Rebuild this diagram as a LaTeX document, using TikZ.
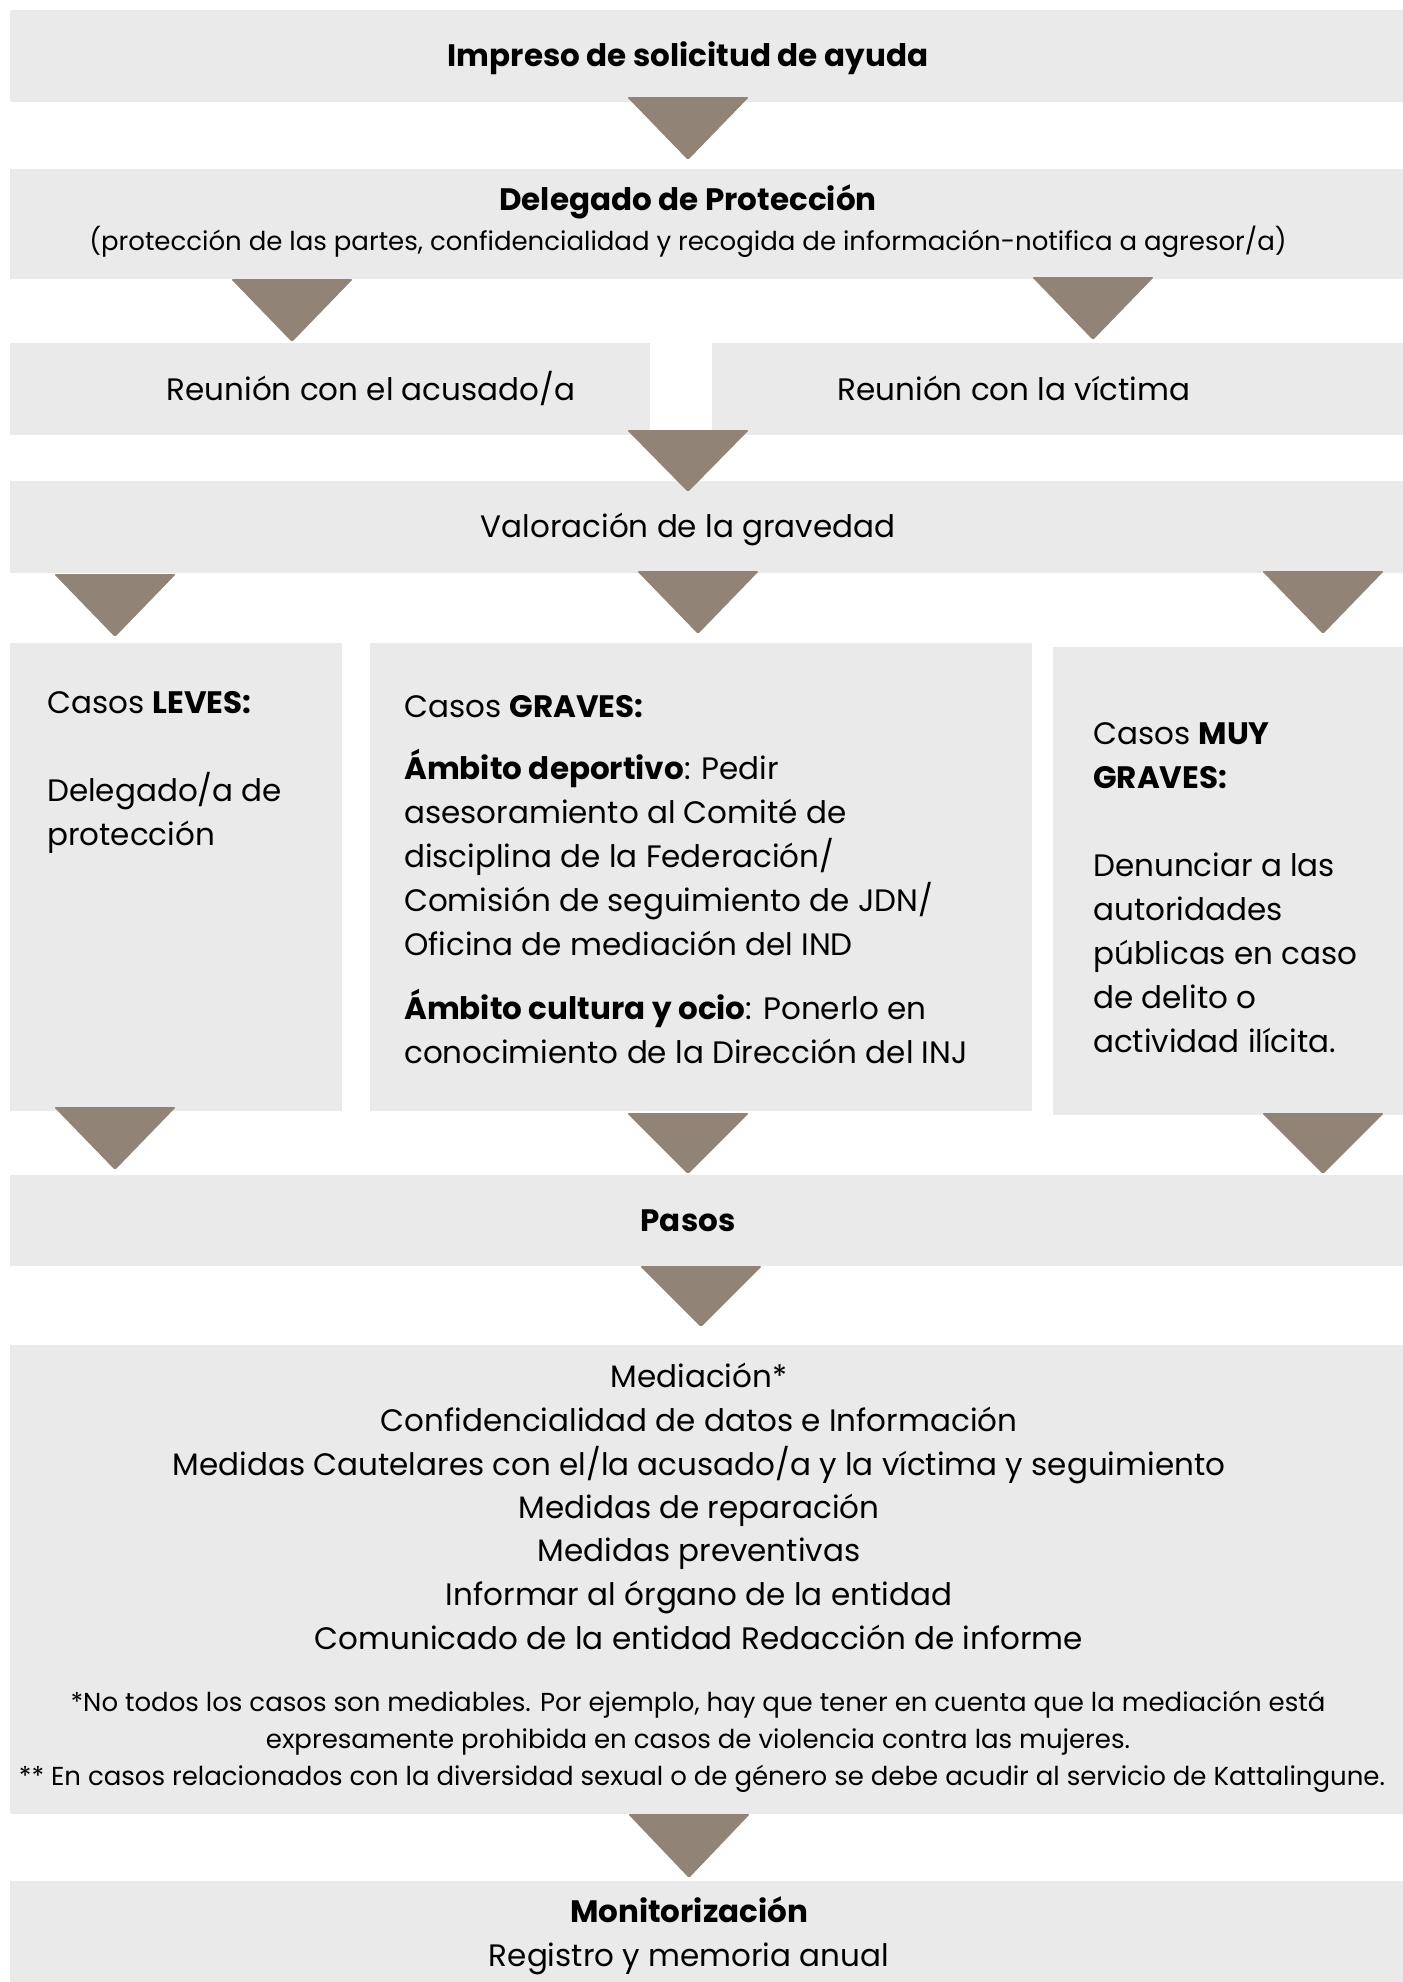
\documentclass[tikz,border=0pt]{standalone}
\usepackage{fontspec}
\setmainfont{Poppins}
\definecolor{boxgray}{HTML}{EAEAEA}
\definecolor{trigray}{HTML}{918476}

\begin{document}
\begin{tikzpicture}[x=1pt,y=-1pt,
		box/.style={fill=boxgray},
		tri/.style={fill=trigray,rounded corners=1.5pt},
		txt/.style={inner sep=0pt,anchor=base,font=\fontsize{31}{37}\selectfont},
		txtl/.style={txt,anchor=base west},
		small/.style={inner sep=0pt,anchor=base,font=\fontsize{26}{31}\selectfont}]
		\useasboundingbox (0,0) rectangle (1403,1982);
		%cajas
		\foreach \xa/\ya/\xb/\yb in {10/10/1403/102, 10/169/1403/279, 10/343/650/435, 712/343/1403/435,
				10/481/1403/573, 10/643/342/1111, 370/643/1032/1111, 1053/647/1403/1115,
				10/1175/1403/1266, 10/1345/1403/1814, 10/1881/1403/1982}{
			\fill[box] (\xa,\ya) rectangle (\xb,\yb);
			}
		%flechas
		\foreach \cx/\ya/\yb in {688/97/160, 292/279/342, 1093/277/340, 688/430/492,
				115/574/637, 698/571/634, 1323/571/634, 115/1107/1170, 688/1113/1174,
				1323/1113/1174, 701/1266/1327, 689/1814/1878}{
			\fill[tri] (\cx-61,\ya) -- (\cx+61,\ya) -- (\cx,\yb) -- cycle;
			}
		\node[txt] (impreso) at (688,66) {\bfseries Impreso de solicitud de ayuda};
		\node[txt] (delegado) at (688,210) {\bfseries Delegado de Protección};
		\node[small] (partes) at (688,250) {(protección de las partes, confidencialidad y recogida de información-notifica a agresor/a)};
		\node[txt] (acusado) at (371,400) {Reunión con el acusado/a};
		\node[txt] (victima) at (1014,400) {Reunión con la víctima};
		\node[txt] (valoracion) at (688,537) {Valoración de la gravedad};
		%leves
		\node[txtl] (leves1) at (47,713) {Casos \textbf{LEVES:}};
		\node[txtl] (leves2) at (47,801) {Delegado/a de};
		\node[txtl] (leves3) at (47,845) {protección};
		%graves
		\node[txtl] (graves1) at (404,717) {Casos \textbf{GRAVES:}};
		\node[txtl] (graves2) at (404,779) {\textbf{Ámbito deportivo}: Pedir};
		\node[txtl] (graves3) at (404,823) {asesoramiento al Comité de};
		\node[txtl] (graves4) at (404,867) {disciplina de la Federación/};
		\node[txtl] (graves5) at (404,911) {Comisión de seguimiento de JDN/};
		\node[txtl] (graves6) at (404,955) {Oficina de mediación del IND};
		\node[txtl] (graves7) at (404,1019) {\textbf{Ámbito cultura y ocio}: Ponerlo en};
		\node[txtl] (graves8) at (404,1063) {conocimiento de la Dirección del INJ};
		%muy graves
		\node[txtl] (muy1) at (1093,744) {Casos \textbf{MUY}};
		\node[txtl] (muy2) at (1093,788) {\textbf{GRAVES:}};
		\node[txtl] (muy3) at (1093,876) {Denunciar a las};
		\node[txtl] (muy4) at (1093,920) {autoridades};
		\node[txtl] (muy5) at (1093,964) {públicas en caso};
		\node[txtl] (muy6) at (1093,1008) {de delito o};
		\node[txtl] (muy7) at (1093,1052) {actividad ilícita.};
		\node[txt] (pasos) at (688,1231) {\bfseries Pasos};
		%medidas
		\node[txt] (med1) at (699,1387) {Mediación*};
		\node[txt] (med2) at (699,1431) {Confidencialidad de datos e Información};
		\node[txt] (med3) at (699,1475) {Medidas Cautelares con el/la acusado/a y la víctima y seguimiento};
		\node[txt] (med4) at (699,1518) {Medidas de reparación};
		\node[txt] (med5) at (699,1561) {Medidas preventivas};
		\node[txt] (med6) at (699,1605) {Informar al órgano de la entidad};
		\node[txt] (med7) at (699,1649) {Comunicado de la entidad Redacción de informe};
		\node[small] (nota1) at (698,1711) {*No todos los casos son mediables. Por ejemplo, hay que tener en cuenta que la mediación está};
		\node[small] (nota2) at (698,1748) {expresamente prohibida en casos de violencia contra las mujeres.};
		\node[small] (nota3) at (702,1785) {** En casos relacionados con la diversidad sexual o de género se debe acudir al servicio de Kattalingune.};
		\node[txt] (monitor) at (689,1922) {\bfseries Monitorización};
		\node[txt] (registro) at (689,1966) {Registro y memoria anual};
	\end{tikzpicture}
\end{document}
